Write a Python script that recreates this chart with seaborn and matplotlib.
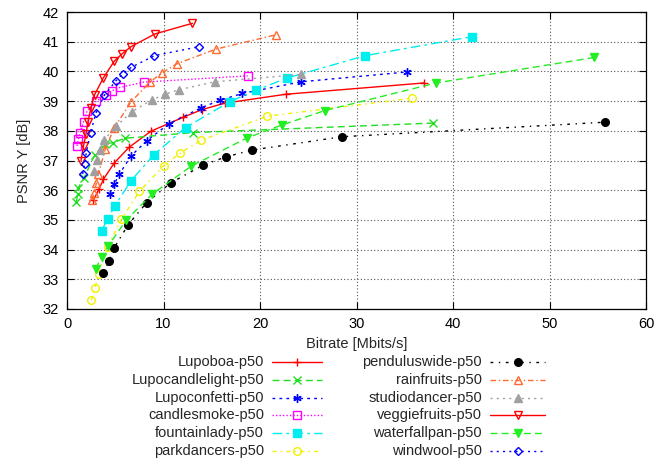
import numpy as np
import pandas as pd
import seaborn as sns
import matplotlib.pyplot as plt
from matplotlib.lines import Line2D

# rate/PSNR points
lupoboa_x = [2.74, 3.31, 3.78, 4.88, 6.45, 8.72, 12.0, 13.95, 16.35, 22.66, 36.97]
lupoboa_y = [35.67, 36.03, 36.37, 36.91, 37.45, 37.99, 38.45, 38.71, 38.93, 39.23, 39.61]

lupocandle_x = [0.98, 1.09, 1.19, 1.76, 2.87, 3.93, 4.76, 6.0, 13.1, 37.9]
lupocandle_y = [35.61, 35.86, 36.09, 36.41, 37.19, 37.56, 37.6, 37.75, 37.94, 38.26]

lupoconf_x = [4.45, 4.89, 5.41, 6.62, 8.28, 10.55, 13.92, 15.9, 18.18, 24.28, 35.21]
lupoconf_y = [35.86, 36.2, 36.53, 37.15, 37.67, 38.23, 38.78, 39.03, 39.26, 39.65, 39.98]

candle_x = [1.03, 1.19, 1.35, 1.71, 2.07, 3.0, 4.0, 4.69, 5.48, 7.97, 18.73]
candle_y = [37.49, 37.71, 37.94, 38.3, 38.66, 38.99, 39.22, 39.35, 39.46, 39.64, 39.85]

fountain_x = [3.59, 4.21, 4.95, 6.64, 9.02, 12.29, 16.87, 19.63, 22.83, 30.9, 41.98]
fountain_y = [34.64, 35.03, 35.47, 36.32, 37.2, 38.11, 38.98, 39.37, 39.78, 40.53, 41.17]

park_x = [2.53, 2.88, 3.27, 4.22, 5.64, 7.51, 10.04, 11.74, 13.9, 20.72, 35.8]
park_y = [32.3, 32.7, 33.17, 34.1, 35.02, 35.96, 36.83, 37.25, 37.68, 38.49, 39.1]

pendulus_x = [3.76, 4.35, 4.89, 6.34, 8.25, 10.76, 14.14, 16.45, 19.14, 28.5, 55.77]
pendulus_y = [33.2, 33.62, 34.06, 34.84, 35.58, 36.25, 36.85, 37.12, 37.35, 37.8, 38.29]

rain_x = [2.59, 2.79, 3.05, 3.26, 3.98, 4.9, 6.62, 8.59, 9.85, 11.35, 15.42, 21.62]
rain_y = [35.67, 35.91, 36.24, 36.55, 37.4, 38.1, 38.97, 39.64, 39.95, 40.25, 40.75, 41.23]

studio_x = [2.82, 3.1, 3.41, 3.83, 5.12, 6.69, 8.85, 10.14, 11.56, 15.31, 24.28]
studio_y = [36.66, 37.02, 37.35, 37.69, 38.16, 38.64, 39.05, 39.23, 39.38, 39.65, 39.9]

veggie_x = [1.45, 1.71, 1.97, 2.17, 2.48, 2.85, 3.78, 4.91, 5.74, 6.62, 9.1, 13.0]
veggie_y = [37.0, 37.49, 37.89, 38.3, 38.77, 39.21, 39.79, 40.35, 40.6, 40.83, 41.26, 41.62]

waterfall_x = [2.97, 3.59, 4.27, 6.14, 8.83, 12.88, 18.65, 22.32, 26.7, 38.25, 54.66]
waterfall_y = [33.35, 33.76, 34.12, 35.0, 35.87, 36.81, 37.76, 38.2, 38.68, 39.61, 40.47]

windwool_x = [1.62, 1.83, 1.99, 2.45, 3.0, 3.88, 5.09, 5.79, 6.67, 9.05, 13.66]
windwool_y = [36.55, 36.88, 37.25, 37.94, 38.6, 39.2, 39.69, 39.92, 40.14, 40.53, 40.83]

names = ['Lupoboa-p50', 'Lupocandlelight-p50', 'Lupoconfetti-p50', 'candlesmoke-p50',
         'fountainlady-p50', 'parkdancers-p50', 'penduluswide-p50', 'rainfruits-p50',
         'studiodancer-p50', 'veggiefruits-p50', 'waterfallpan-p50', 'windwool-p50']
xs = [lupoboa_x, lupocandle_x, lupoconf_x, candle_x, fountain_x, park_x,
      pendulus_x, rain_x, studio_x, veggie_x, waterfall_x, windwool_x]
ys = [lupoboa_y, lupocandle_y, lupoconf_y, candle_y, fountain_y, park_y,
      pendulus_y, rain_y, studio_y, veggie_y, waterfall_y, windwool_y]

# gnuplot-ish styles: color, linestyle, marker, filled
styles = [
    ('#ff0000', '-', '+', True),
    ('#22dd22', (0, (5, 3)), 'x', True),
    ('#0000ff', (0, (2, 3)), (6, 2, 0), True),
    ('#ff00ff', (0, (1, 1.5)), 's', False),
    ('#00eeee', (0, (7, 3, 2, 3)), 's', True),
    ('#f0f000', (0, (3, 3, 1, 3)), 'o', False),
    ('#000000', (0, (2, 4, 1, 4)), 'o', True),
    ('#ff6a30', (0, (4, 2, 1, 2)), '^', False),
    ('#a0a0a0', (0, (1.5, 3)), '^', True),
    ('#ff0000', '-', 'v', False),
    ('#22ee22', (0, (5, 3)), 'v', True),
    ('#0000ff', (0, (1.5, 3)), 'D', False),
]

sns.set_theme(style='ticks')
plt.rcParams['font.family'] = ['Liberation Sans', 'DejaVu Sans']

fig = plt.figure(figsize=(6.56, 4.62), dpi=100)
ax = fig.add_axes([67 / 656, 1 - 309 / 462, 579 / 656, 297 / 462])

def mk_kws(color, marker, filled):
    if marker in ('+', 'x') or isinstance(marker, tuple):
        return dict(markersize=6, markeredgewidth=1.0, markeredgecolor=color)
    size = 4.5 if marker == 'D' else 5.5
    return dict(markersize=size, markeredgewidth=1.0, markeredgecolor=color,
                markerfacecolor=color if filled else 'none')

for name, x, y, (c, ls, m, f) in zip(names, xs, ys, styles):
    df = pd.DataFrame({'rate': x, 'psnr': y})
    sns.lineplot(data=df, x='rate', y='psnr', ax=ax, sort=False, color=c,
                 linestyle=ls, linewidth=1.0, marker=m, **mk_kws(c, m, f))

ax.set_xlim(0, 60)
ax.set_ylim(32, 42)
ax.set_xticks(np.arange(0, 61, 10))
ax.set_yticks(np.arange(32, 43, 1))
ax.grid(True, color='#555555', linestyle=(0, (1, 2)), linewidth=0.8)
ax.tick_params(direction='in', length=5, width=0.8, labelsize=10.5, colors='black',
               top=True, right=True, pad=6)
for s in ax.spines.values():
    s.set_visible(True)
    s.set_color('black')
    s.set_linewidth(0.9)
ax.set_xlabel('Bitrate [Mbits/s]', fontsize=10.5, labelpad=4)
ax.set_ylabel('PSNR Y [dB]', fontsize=10.5, labelpad=8)

# legend below the plot, two columns, text right-aligned with sample to the right
W, H = 656, 462
col_text = [264, 482]
col_line = [(272, 322), (490, 545)]
row0, dy = 362, 17.8
for i, (name, (c, ls, m, f)) in enumerate(zip(names, styles)):
    col, row = divmod(i, 6)
    yy = 1 - (row0 + row * dy) / H
    fig.text(col_text[col] / W, yy, name, ha='right', va='center', fontsize=10.5)
    x0, x1 = col_line[col]
    fig.add_artist(Line2D([x0 / W, (x0 + x1) / 2 / W, x1 / W], [yy, yy, yy],
                          transform=fig.transFigure, color=c, linestyle=ls,
                          linewidth=1.0, marker=m, markevery=[1], **mk_kws(c, m, f)))

fig.savefig('out.png', dpi=100)
